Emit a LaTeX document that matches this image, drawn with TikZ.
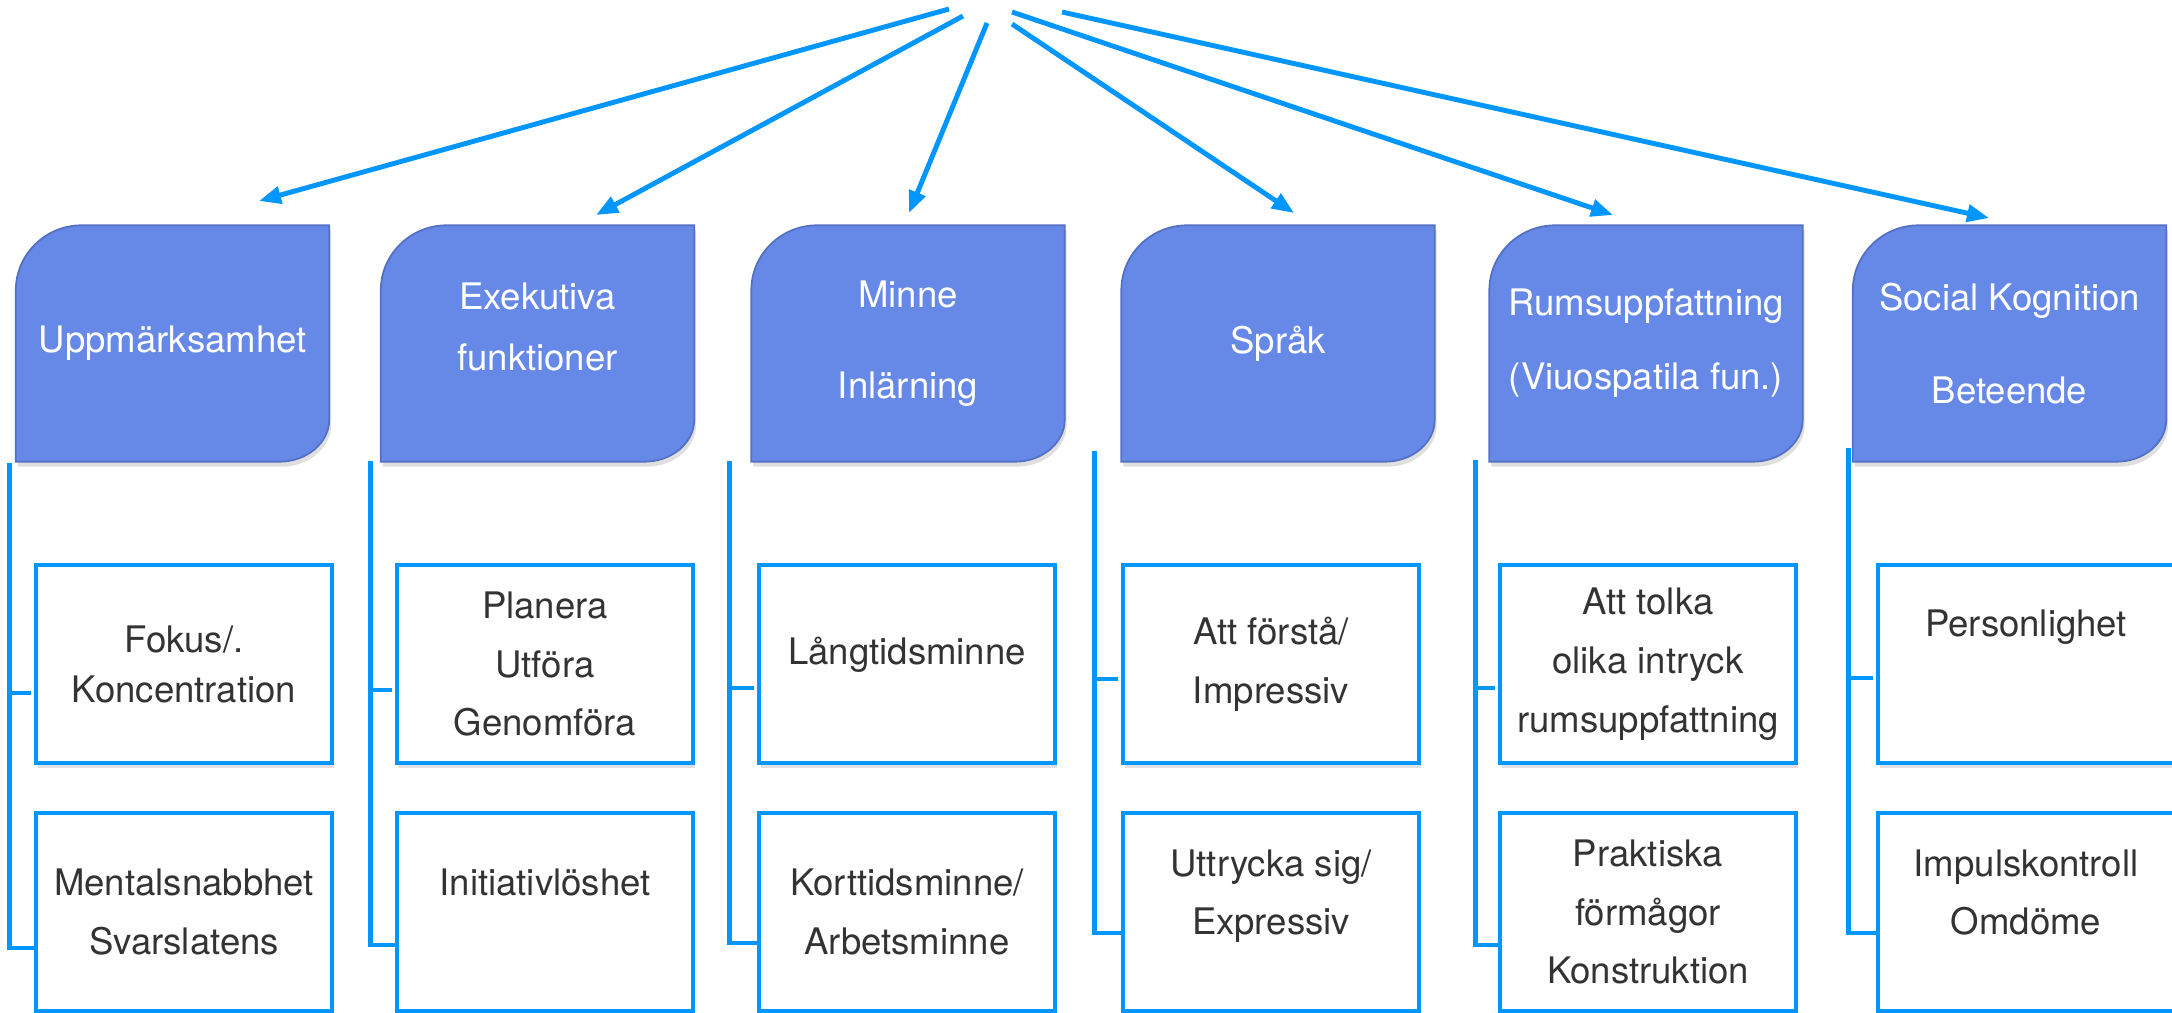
\documentclass[tikz,border=0pt]{standalone}
\usepackage{fontspec}
\setmainfont{TeX Gyre Heros}
\usetikzlibrary{arrows.meta,calc,shadows,backgrounds}
\definecolor{headblue}{RGB}{102,137,232}
\definecolor{headline}{RGB}{84,112,196}
\definecolor{linkblue}{RGB}{0,150,255}
\definecolor{txtgray}{RGB}{51,51,51}

\begin{document}
\begin{tikzpicture}[
  head/.style={minimum width=3.12cm, minimum height=2.35cm, inner sep=0pt, align=center, text=white, font=\fontsize{10.4}{16.7}\selectfont},
  sub/.style={draw=linkblue, line width=0.9pt, fill=white, minimum width=2.96cm, minimum height=1.98cm, inner sep=0pt, align=center, text=txtgray, font=\fontsize{10.4}{16.7}\selectfont, drop shadow={shadow xshift=0.02cm, shadow yshift=-0.05cm, opacity=0.25}},
  pointer/.style={linkblue, line width=1.4pt, -{Triangle[length=0.22cm,width=0.17cm]}},
  bracket/.style={linkblue, line width=1.3pt}
]
  \useasboundingbox (0,0) rectangle (21.72,10.12);

  % domains
  \node[head] (h1) at (1.725,6.685) {Uppmärksamhet};
  \node[head] (h2) at (5.375,6.685) {Exekutiva\\[0.9pt]funktioner\\[-7.1pt]~};
  \node[head] (h3) at (9.08,6.685) {Minne\\[9pt]Inlärning};
  \node[head] (h4) at (12.78,6.685) {Språk};
  \node[head] (h5) at (16.46,6.685) {Rumsuppfattning\\[4.3pt](Viuospatila fun.)};
  \node[head] (h6) at (20.095,6.685) {Social Kognition\\[9.7pt]Beteende};

  \begin{scope}[on background layer]
    \foreach \i in {1,...,6}
      \filldraw[fill=headblue, draw=headline, line width=0.5pt, drop shadow={shadow xshift=0.02cm, shadow yshift=-0.05cm, opacity=0.25}]
        (h\i.south west) -- ($(h\i.north west)+(0,-0.65)$)
        arc[start angle=180, end angle=90, x radius=0.66cm, y radius=0.65cm]
        -- (h\i.north east) -- ($(h\i.south east)+(0,0.42)$)
        arc[start angle=0, end angle=-90, x radius=0.5cm, y radius=0.42cm] -- cycle;
  \end{scope}

  % sub functions
  \node[sub] (up1) at (1.84,3.48) {Fokus/.\\[-2.5pt]Koncentration};
  \node[sub] (lo1) at (1.84,1.00) {Mentalsnabbhet\\Svarslatens};
  \node[sub] (up2) at (5.45,3.48) {Planera\\Utföra\\Genomföra};
  \node[sub] (lo2) at (5.45,1.00) {Initiativlöshet\\~};
  \node[sub] (up3) at (9.07,3.48) {Långtidsminne\\[-9pt]~};
  \node[sub] (lo3) at (9.07,1.00) {Korttidsminne/\\Arbetsminne};
  \node[sub] (up4) at (12.71,3.48) {Att förstå/\\Impressiv};
  \node[sub] (lo4) at (12.71,1.00) {Uttrycka sig/\\Expressiv\\[-5.4pt]~};
  \node[sub] (up5) at (16.48,3.48) {Att tolka\\olika intryck\\rumsuppfattning};
  \node[sub] (lo5) at (16.48,1.00) {Praktiska\\förmågor\\Konstruktion};
  \node[sub] (up6) at (20.26,3.48) {Personlighet\\[6.5pt]~};
  \node[sub] (lo6) at (20.26,1.00) {Impulskontroll\\Omdöme\\[-5.4pt]~};

  \foreach \i/\dx/\dup/\dlo/\dtk in {1/0.25/2.01/0.36/0.29, 2/0.25/2.03/0.33/0.26, 3/0.28/2.03/0.31/0.24, 4/0.27/2.13/0.21/0.15, 5/0.23/2.04/0.33/0.24, 6/0.28/2.16/0.21/0.14}{
    \draw[bracket] ($(up\i.west)+(-\dx,\dup)$) -- ($(lo\i.west)+(-\dx,-\dlo)$) -- ($(lo\i.west)+(0,-\dlo)$);
    \draw[bracket] ($(up\i.west)+(-\dx,-\dtk)$) -- ($(up\i.west)+(-0.03,-\dtk)$);
  }

  % fan of arrows
  \coordinate (src1) at (9.49,10.03);
  \coordinate (src2) at (9.63,9.96);
  \coordinate (src3) at (9.87,9.89);
  \coordinate (src4) at (10.12,9.88);
  \coordinate (src5) at (10.12,10.00);
  \coordinate (src6) at (10.62,10.00);
  \coordinate (tip1) at (2.59,8.11);
  \coordinate (tip2) at (5.96,7.97);
  \coordinate (tip3) at (9.09,7.99);
  \coordinate (tip4) at (12.94,7.99);
  \coordinate (tip5) at (16.13,7.97);
  \coordinate (tip6) at (19.89,7.94);
  \draw[pointer] (src1) -- (tip1);
  \draw[pointer] (src2) -- (tip2);
  \draw[pointer] (src3) -- (tip3);
  \draw[pointer] (src4) -- (tip4);
  \draw[pointer] (src5) -- (tip5);
  \draw[pointer] (src6) -- (tip6);
\end{tikzpicture}
\end{document}
